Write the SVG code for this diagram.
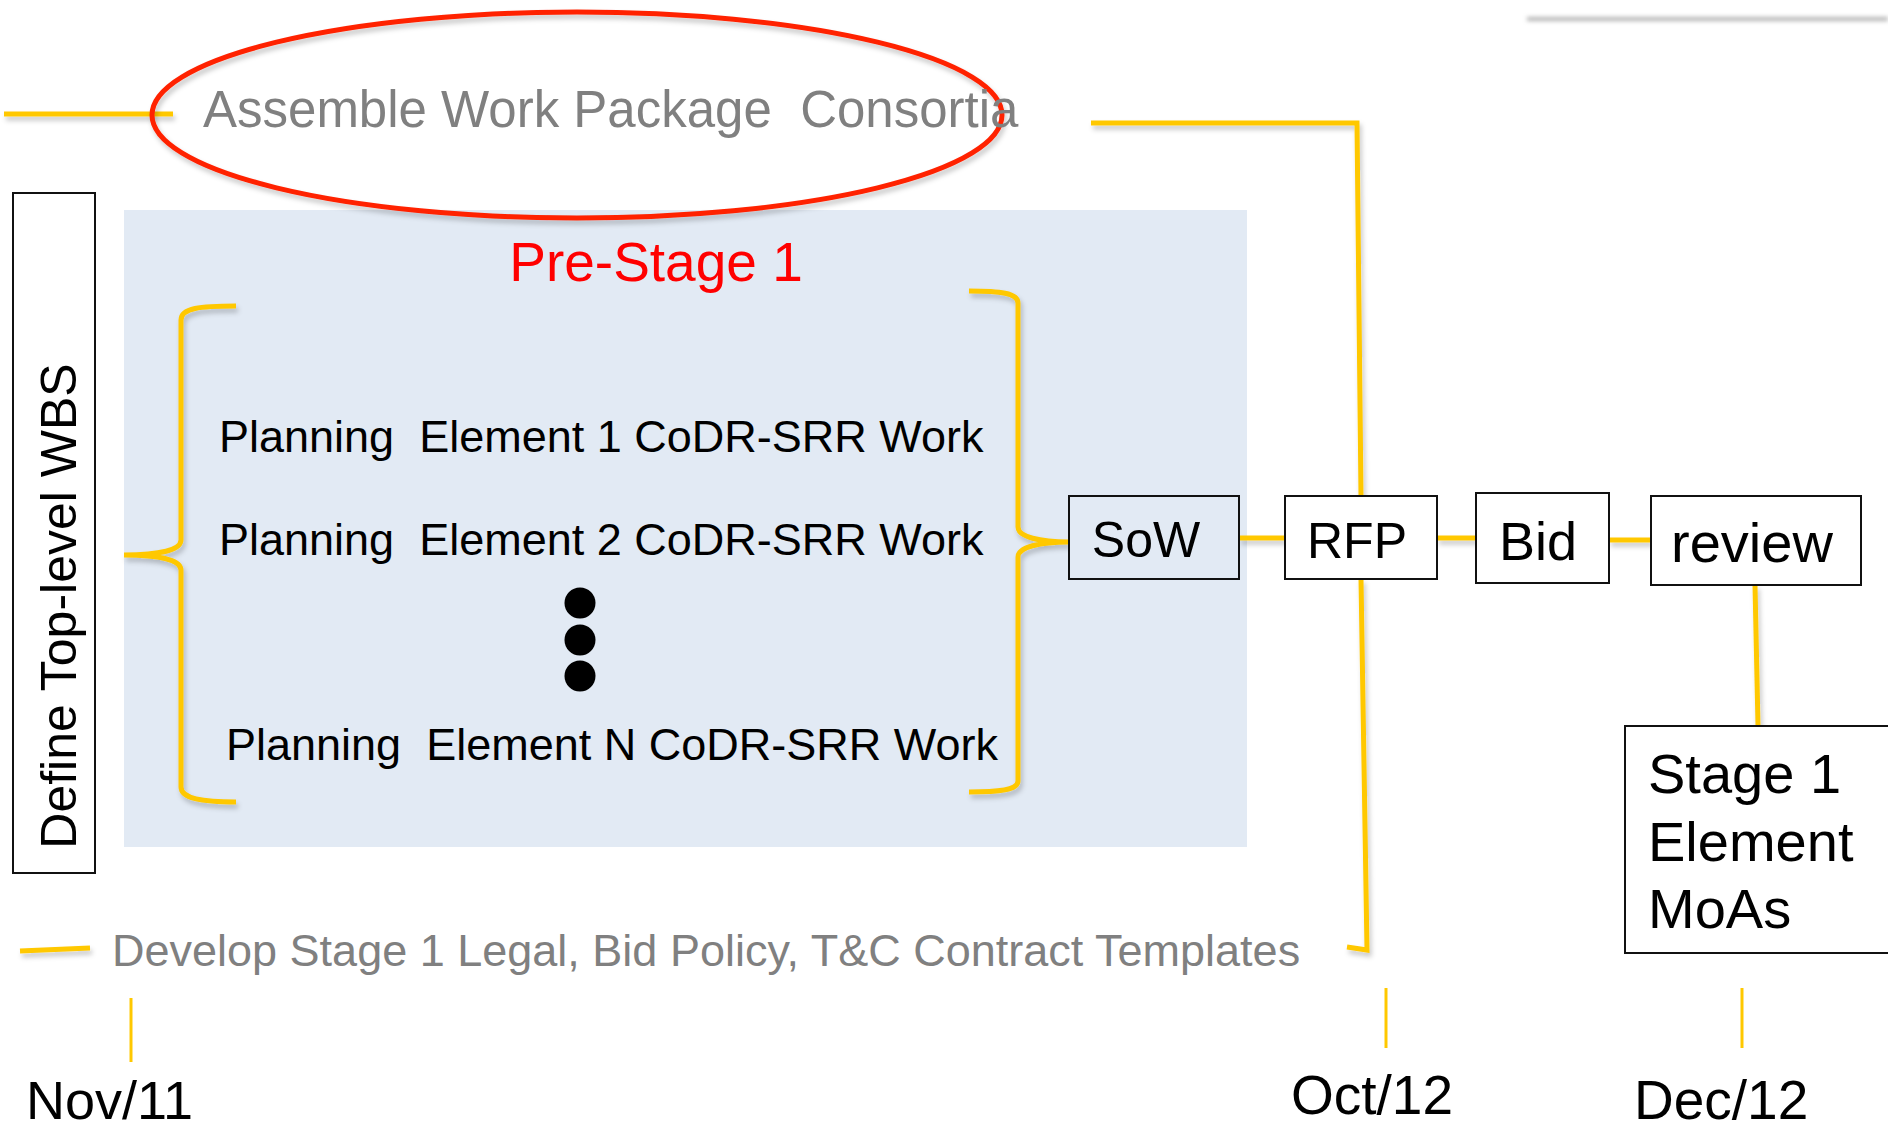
<svg xmlns="http://www.w3.org/2000/svg" width="1888" height="1131" viewBox="0 0 1888 1131">
  <defs>
    <filter id="shadow" filterUnits="userSpaceOnUse" x="0" y="0" width="1888" height="1131">
      <feDropShadow dx="2" dy="4" stdDeviation="2.5" flood-color="#000" flood-opacity="0.22"/>
    </filter>
    <filter id="soft" filterUnits="userSpaceOnUse" x="0" y="0" width="1888" height="1131">
      <feGaussianBlur stdDeviation="2"/>
    </filter>
  </defs>
  <style>
    .box { fill: #fff; stroke: #111; stroke-width: 2; }
    .link { fill: none; stroke: #FFC800; stroke-width: 5; filter: url(#shadow); }
    .tick { fill: none; stroke: #FFC800; stroke-width: 3; }
    .lbl { font-family: "Liberation Sans", Arial, sans-serif; fill: #000; white-space: pre; }
    .grey { font-family: "Liberation Sans", Arial, sans-serif; fill: #808080; white-space: pre; }
  </style>

  <rect width="1888" height="1131" fill="#fff"/>

  <!-- faint rule at top right -->
  <line x1="1527" y1="19" x2="1888" y2="19" stroke="#b4b4b4" stroke-width="4" filter="url(#soft)"/>

  <!-- pre-stage panel -->
  <g id="pre-stage-panel">
    <rect x="124" y="210" width="1123" height="637" fill="#E2EAF4"/>
    <text class="lbl" x="656" y="281" font-size="55" style="fill:#FF0000" text-anchor="middle">Pre-Stage 1</text>
  </g>

  <!-- connectors -->
  <g id="connectors">
    <line class="link" x1="4" y1="114" x2="173" y2="114"/>
    <polyline class="link" points="1091,123 1357,123 1361,496"/>
    <line class="link" x1="1239" y1="538" x2="1285" y2="538"/>
    <line class="link" x1="1437" y1="538" x2="1476" y2="538"/>
    <line class="link" x1="1609" y1="540" x2="1651" y2="540"/>
    <polyline class="link" points="1361,579 1367,950 1347,947"/>
    <line class="link" x1="1755" y1="585" x2="1758" y2="726"/>
    <line class="link" x1="20" y1="951" x2="90" y2="948"/>
    <!-- braces -->
    <path class="link" d="M236,306 C200,306 181,308 181,320 L181,540 C181,550 160,555 124,555 C160,555 181,560 181,570 L181,787 C181,798 200,802 236,802"/>
    <path class="link" d="M969,291 C1000,291 1018,293 1018,303 L1018,527 C1018,537 1040,542 1069,542 C1040,542 1018,547 1018,557 L1018,781 C1018,790 1000,792 969,792"/>
    <!-- date ticks -->
    <line class="tick" x1="131" y1="998" x2="131" y2="1062"/>
    <line class="tick" x1="1386" y1="988" x2="1386" y2="1048"/>
    <line class="tick" x1="1742" y1="988" x2="1742" y2="1048"/>
  </g>

  <!-- assemble work package -->
  <g id="assemble">
    <ellipse cx="577" cy="115" rx="425" ry="103" fill="none" stroke="#FF2200" stroke-width="5" filter="url(#shadow)"/>
    <text class="grey" x="203" y="127" font-size="51">Assemble Work Package  Consortia</text>
  </g>

  <!-- WBS -->
  <g id="define-wbs">
    <rect class="box" x="13" y="193" width="82" height="680"/>
    <text class="lbl" transform="translate(76,606) rotate(-90)" font-size="50" text-anchor="middle">Define Top-level WBS</text>
  </g>

  <!-- planning elements -->
  <g id="planning">
    <text class="lbl" x="219" y="452" font-size="45">Planning  Element 1 CoDR-SRR Work</text>
    <text class="lbl" x="219" y="555" font-size="45">Planning  Element 2 CoDR-SRR Work</text>
    <circle cx="580" cy="603" r="15.5" fill="#000"/>
    <circle cx="580" cy="640" r="15.5" fill="#000"/>
    <circle cx="580" cy="676" r="15.5" fill="#000"/>
    <text class="lbl" x="226" y="760" font-size="45">Planning  Element N CoDR-SRR Work</text>
  </g>

  <g id="sow">
    <rect class="box" x="1069" y="496" width="170" height="83" style="fill:#E2EAF4"/>
    <text class="lbl" x="1146" y="557" font-size="50" text-anchor="middle">SoW</text>
  </g>

  <g id="rfp">
    <rect class="box" x="1285" y="496" width="152" height="83"/>
    <text class="lbl" x="1357" y="558" font-size="50" text-anchor="middle">RFP</text>
  </g>

  <g id="bid">
    <rect class="box" x="1476" y="493" width="133" height="90"/>
    <text class="lbl" x="1538" y="560" font-size="54" text-anchor="middle">Bid</text>
  </g>

  <g id="review">
    <rect class="box" x="1651" y="496" width="210" height="89"/>
    <text class="lbl" x="1752" y="562" font-size="56" text-anchor="middle">review</text>
  </g>

  <g id="stage1-moas">
    <rect class="box" x="1625" y="726" width="300" height="227"/>
    <text class="lbl" x="1648" y="793" font-size="56">Stage 1</text>
    <text class="lbl" x="1648" y="861" font-size="56">Element</text>
    <text class="lbl" x="1648" y="928" font-size="56">MoAs</text>
  </g>

  <g id="develop-templates">
    <text class="grey" x="112" y="966" font-size="45">Develop Stage 1 Legal, Bid Policy, T&amp;C Contract Templates</text>
  </g>

  <!-- timeline dates -->
  <g id="dates">
    <text class="lbl" x="26" y="1119" font-size="54">Nov/11</text>
    <text class="lbl" x="1291" y="1114" font-size="55">Oct/12</text>
    <text class="lbl" x="1634" y="1119" font-size="55">Dec/12</text>
  </g>
</svg>
